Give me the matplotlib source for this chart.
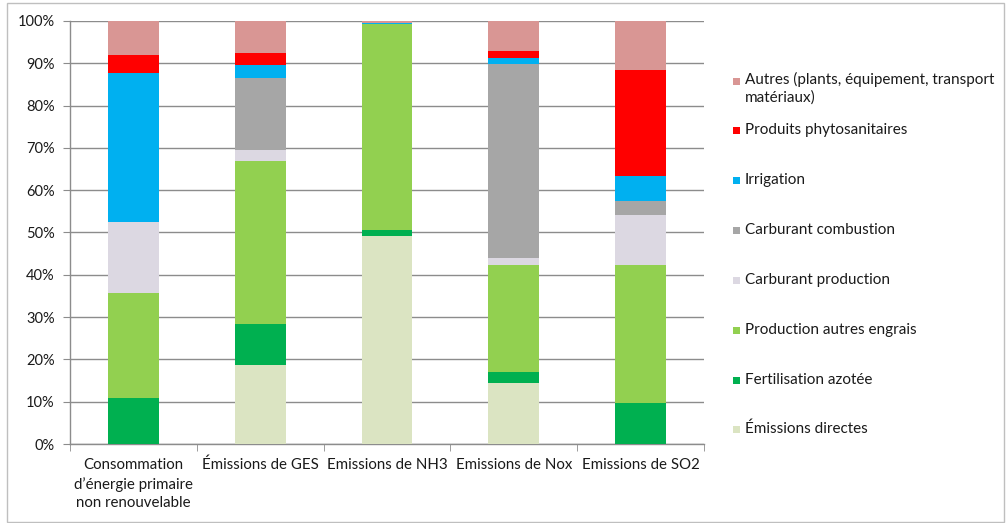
import matplotlib
matplotlib.use("Agg")
import matplotlib.pyplot as plt
from matplotlib.patches import Rectangle
import numpy as np

plt.rcParams['font.family'] = ['Lato', 'DejaVu Sans']

categories = ["Consommation\nd’énergie primaire\nnon renouvelable", "Émissions de GES",
              "Emissions de NH3", "Emissions de Nox", "Emissions de SO2"]

# series values in % (bottom to top)
emissions_directes = [0.0, 18.7, 49.1, 14.5, 0.0]
fertilisation_azotee = [10.8, 9.7, 1.6, 2.6, 9.6]
production_autres_engrais = [24.9, 38.6, 48.5, 25.3, 32.8]
carburant_production = [16.7, 2.6, 0.0, 1.6, 11.8]
carburant_combustion = [0.0, 17.0, 0.0, 45.9, 3.2]
irrigation = [35.4, 2.9, 0.3, 1.4, 5.9]
produits_phyto = [4.1, 3.0, 0.0, 1.7, 25.1]
autres = [8.1, 7.5, 0.5, 7.0, 11.6]

series_names = ["Émissions directes", "Fertilisation azotée", "Production autres engrais",
                "Carburant production", "Carburant combustion", "Irrigation",
                "Produits phytosanitaires", "Autres (plants, équipement, transport\nmatériaux)"]
series_values = [emissions_directes, fertilisation_azotee, production_autres_engrais,
                 carburant_production, carburant_combustion, irrigation, produits_phyto, autres]
colors = ["#dbe4c2", "#00b050", "#92d050", "#dcd8e2", "#a6a6a6", "#00b0f0", "#ff0000", "#d99694"]

yticks = [0, 10, 20, 30, 40, 50, 60, 70, 80, 90, 100]
ytick_labels = [f"{v}%" for v in yticks]

W, H = 1006, 523
fig = plt.figure(figsize=(W / 100, H / 100), dpi=100)
fig.patch.set_facecolor("white")

# outer frame
fig.add_artist(Rectangle((7 / W, 1 - 522 / H), (1004 - 7) / W, (522 - 3) / H,
                         transform=fig.transFigure, fill=False, edgecolor="#bfbfbf", lw=1))

ax = fig.add_axes([70 / W, (H - 444) / H, (704 - 70) / W, (444 - 21) / H])
x = np.arange(len(categories))
bottom = np.zeros(len(categories))
for name, vals, c in zip(series_names, series_values, colors):
    v = np.array(vals, dtype=float)
    ax.bar(x, v, bottom=bottom, width=0.4, color=c, label=name, zorder=3, linewidth=0)
    bottom += v

ax.set_xlim(-0.5, len(categories) - 0.5)
ax.set_ylim(0, 100)
ax.set_yticks(yticks)
ax.set_yticklabels(ytick_labels, fontsize=10.5, color="#1a1a1a")
ax.yaxis.grid(True, color="#8c8c8c", lw=1, zorder=0)
ax.set_axisbelow(True)

ax.set_xticks(x)
ax.set_xticklabels(categories, fontsize=10.8, color="#1a1a1a", linespacing=1.4)
ax.set_xticks(np.arange(-0.5, len(categories)), minor=True)
ax.tick_params(axis="x", which="major", length=0, pad=10)
ax.tick_params(axis="x", which="minor", length=5, color="#8c8c8c", direction="out")
ax.tick_params(axis="y", length=5, color="#8c8c8c", direction="out", pad=6)

for s in ["top", "right"]:
    ax.spines[s].set_visible(False)
for s in ["left", "bottom"]:
    ax.spines[s].set_color("#8c8c8c")
    ax.spines[s].set_linewidth(1)

# manual legend (top entry = top series)
leg_y = [81, 130, 180, 230, 280, 330, 380, 429]
for i, (name, c) in enumerate(zip(series_names[::-1], colors[::-1])):
    yc = leg_y[i]
    fig.add_artist(Rectangle((733 / W, 1 - (yc + 4) / H), 7 / W, 7 / H,
                             transform=fig.transFigure, color=c, lw=0))
    if i == 0:
        fig.text(745 / W, 1 - (yc - 9) / H, name, fontsize=11, color="#1a1a1a",
                 va="top", ha="left", linespacing=1.3)
    else:
        fig.text(745 / W, 1 - yc / H, name, fontsize=11, color="#1a1a1a",
                 va="center", ha="left")

fig.savefig("out.png", dpi=100, facecolor="white")
